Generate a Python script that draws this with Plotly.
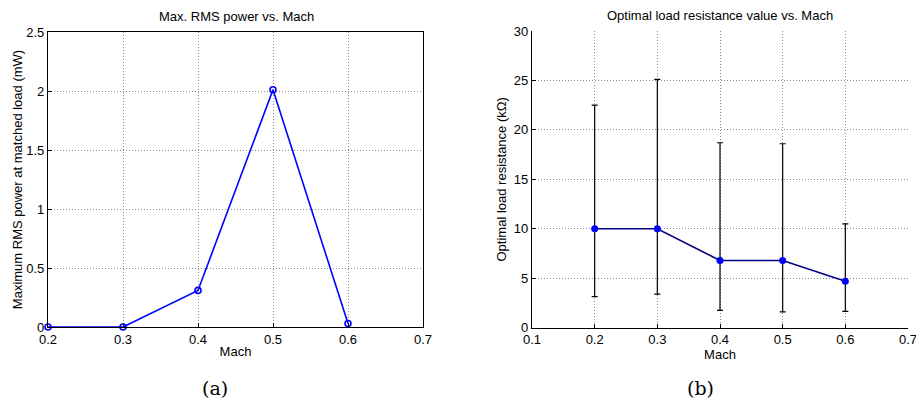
import plotly.graph_objects as go

mach = [0.2, 0.3, 0.4, 0.5, 0.6]
power_mw = [0.0, 0.0, 0.31, 2.01, 0.03]

res_kohm = [10.0, 10.0, 6.8, 6.8, 4.7]
res_upper = [22.5, 25.1, 18.7, 18.6, 10.5]
res_lower = [3.15, 3.4, 1.75, 1.6, 1.65]

x_ticks_a = [0.2, 0.3, 0.4, 0.5, 0.6, 0.7]
y_ticks_a = [0, 0.5, 1, 1.5, 2, 2.5]
x_ticks_b = [0.1, 0.2, 0.3, 0.4, 0.5, 0.6, 0.7]
y_ticks_b = [0, 5, 10, 15, 20, 25, 30]

err_plus = [u - v for u, v in zip(res_upper, res_kohm)]
err_minus = [v - l for v, l in zip(res_kohm, res_lower)]

W, H = 916, 403


def px(x):
    return x / W


def py(y):
    return 1 - y / H


FONT = "Liberation Sans"
SERIF = "DejaVu Serif"

fig = go.Figure()
fig.add_trace(go.Scatter(
    x=mach, y=power_mw, mode="lines+markers",
    line=dict(color="#0000ff", width=1.6),
    marker=dict(symbol="circle-open", size=6, color="#0000ff", line=dict(width=1.6)),
    xaxis="x", yaxis="y", showlegend=False, cliponaxis=False))

fig.add_trace(go.Scatter(
    x=mach, y=res_kohm, mode="lines+markers",
    line=dict(color="#000080", width=1.6),
    marker=dict(symbol="circle", size=7, color="#0000ff"),
    error_y=dict(type="data", symmetric=False, array=err_plus, arrayminus=err_minus,
                 color="black", thickness=1.2, width=3),
    xaxis="x2", yaxis="y2", showlegend=False, cliponaxis=False))

grid = dict(showgrid=True, gridcolor="#8c8c8c", griddash="1px,2px", gridwidth=1,
            zeroline=False, ticks="inside", ticklen=4, tickcolor="black",
            showline=True, linecolor="black", linewidth=1.2, automargin=False,
            ticklabeloverflow="allow",
            tickfont=dict(family=FONT, size=13, color="black"))

fig.update_layout(
    template="none",
    width=W, height=H,
    margin=dict(l=0, r=0, t=0, b=0),
    paper_bgcolor="white", plot_bgcolor="white",
    font=dict(family=FONT, size=13, color="black"),
    xaxis=dict(domain=[px(48), px(423)], range=[0.2, 0.7], tickvals=x_ticks_a,
               ticktext=[str(v) for v in x_ticks_a], mirror=True, anchor="y",
               title=dict(text="Mach", font=dict(size=13), standoff=1), **grid),
    yaxis=dict(domain=[py(327), py(32)], range=[0, 2.5], tickvals=y_ticks_a,
               ticktext=[str(v) for v in y_ticks_a], mirror=True, anchor="x",
               title=dict(text="Maximum RMS power at matched load (mW)", font=dict(size=13), standoff=0),
               **grid),
    xaxis2=dict(domain=[px(532), px(908)], range=[0.1, 0.7], tickvals=x_ticks_b,
                ticktext=[str(v) for v in x_ticks_b], anchor="y2",
                title=dict(text="Mach", font=dict(size=13), standoff=1), **grid),
    yaxis2=dict(domain=[py(327.7), py(31)], range=[0, 30], tickvals=y_ticks_b,
                ticktext=[str(v) for v in y_ticks_b], anchor="x2",
                title=dict(text="Optimal load resistance (kΩ)", font=dict(size=13), standoff=4),
                **grid),
    annotations=[
        dict(text="Max. RMS power vs. Mach", x=px(236), y=py(17), xref="paper", yref="paper",
             showarrow=False, font=dict(family=FONT, size=13), xanchor="center", yanchor="middle"),
        dict(text="Optimal load resistance value vs. Mach", x=px(720), y=py(15), xref="paper",
             yref="paper", showarrow=False, font=dict(family=FONT, size=13),
             xanchor="center", yanchor="middle"),
        dict(text="(a)", x=px(215), y=py(388), xref="paper", yref="paper", showarrow=False,
             font=dict(family=SERIF, size=19), xanchor="center", yanchor="middle"),
        dict(text="(b)", x=px(700), y=py(388), xref="paper", yref="paper", showarrow=False,
             font=dict(family=SERIF, size=19), xanchor="center", yanchor="middle"),
    ],
)

fig.write_html("out.html", config={"displayModeBar": False},
               post_script="document.body.style.margin='0';document.body.style.overflow='hidden';")
